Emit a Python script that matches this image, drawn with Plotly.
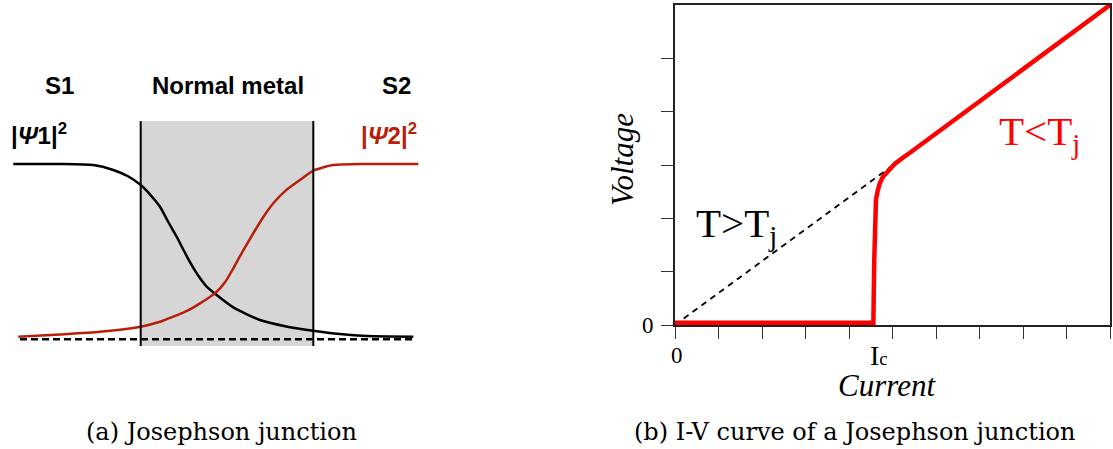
import plotly.graph_objects as go

W, H = 1113, 449

# ---- (a) order-parameter profiles across an S / N / S junction ----
# position along the junction (left panel units) and normalised |psi|^2
psi1_position = [13.3, 60, 93.3, 113.3, 128, 140.7, 151, 160, 168, 176.7, 183, 190, 198, 206.7, 216,
                 233.3, 260, 285, 313.3, 340, 366.7, 413.3]
psi1_density = [1.0, 1.0, 0.994, 0.966, 0.93, 0.880, 0.82, 0.756, 0.672, 0.585, 0.515, 0.440, 0.365,
                0.300, 0.255, 0.182, 0.110, 0.075, 0.049, 0.030, 0.019, 0.015]
psi2_position = [18.3, 60, 100, 140.7, 160, 173.3, 188, 200, 216, 225, 233.3, 243, 253.3, 263,
                 273.3, 287, 300, 313.3, 333.3, 366.7, 418.3]
psi2_density = [0.015, 0.028, 0.043, 0.072, 0.100, 0.129, 0.165, 0.205, 0.268, 0.325, 0.405, 0.505,
                0.605, 0.695, 0.776, 0.855, 0.909, 0.962, 0.994, 1.0, 1.0]
metal_edges = [140.7, 313.3]
metal_density_span = [-0.038, 1.245]
baseline_span = [20, 416]
region_labels = ["S1", "Normal metal", "S2"]
region_centres = [59.5, 228, 396]

# ---- (b) I-V characteristic ----
current = [0, 4.56, 4.58, 4.60, 4.62, 4.66, 4.71, 4.78, 4.86, 4.94, 5.05, 5.21, 5.40, 10]
voltage = [0.04, 0.04, 1.2, 2.16, 2.35, 2.52, 2.66, 2.78, 2.86, 2.93, 3.02, 3.12, 3.23, 6.0]
ohmic_current = [0.2, 4.95]
ohmic_voltage = [0.12, 2.96]
critical_current = 4.56
x_ticks = list(range(0, 11))
y_ticks = list(range(0, 6))
origin_label = "0"

# left panel frame: pixel -> data mapping
LEFT_W = 430
BASE_PX, TOP_PX = 339.3, 164.0          # density 0 and density 1 rows
PX_PER_UNIT = BASE_PX - TOP_PX
left_y_range = [(BASE_PX - H) / PX_PER_UNIT, BASE_PX / PX_PER_UNIT]

# right panel plot box in pixels
RX0, RX1, RY0, RY1 = 675, 1110, 5, 325


def px(x):
    return x / W


def py(y):
    return 1 - y / H


def dens(ypix):
    return (BASE_PX - ypix) / PX_PER_UNIT


DARK_RED = "#b81e0a"
SERIF = "Liberation Serif"
SANS = "Liberation Sans"

fig = go.Figure()

# (a) curves
fig.add_trace(go.Scatter(x=psi1_position, y=psi1_density, mode="lines",
                         line=dict(color="black", width=2.5, shape="spline", smoothing=0.6),
                         xaxis="x", yaxis="y", showlegend=False, hoverinfo="skip"))
fig.add_trace(go.Scatter(x=psi2_position, y=psi2_density, mode="lines",
                         line=dict(color=DARK_RED, width=2.5, shape="spline", smoothing=0.6),
                         xaxis="x", yaxis="y", showlegend=False, hoverinfo="skip"))

# (b) curves
fig.add_trace(go.Scatter(x=ohmic_current, y=ohmic_voltage, mode="lines",
                         line=dict(color="black", width=1.8, dash="6px,5px"),
                         xaxis="x2", yaxis="y2", showlegend=False, hoverinfo="skip"))
fig.add_trace(go.Scatter(x=current, y=voltage, mode="lines",
                         line=dict(color="#ff0000", width=4.5),
                         xaxis="x2", yaxis="y2", showlegend=False, hoverinfo="skip"))

shapes = [
    # normal-metal region
    dict(type="rect", xref="x", yref="y", x0=metal_edges[0], x1=metal_edges[1],
         y0=metal_density_span[0], y1=metal_density_span[1],
         fillcolor="#d6d6d6", line=dict(width=0), layer="below"),
    dict(type="line", xref="x", yref="y", x0=metal_edges[0], x1=metal_edges[0],
         y0=metal_density_span[0], y1=metal_density_span[1], line=dict(color="black", width=2)),
    dict(type="line", xref="x", yref="y", x0=metal_edges[1], x1=metal_edges[1],
         y0=metal_density_span[0], y1=metal_density_span[1], line=dict(color="black", width=2)),
    # zero-density reference
    dict(type="line", xref="x", yref="y", x0=baseline_span[0], x1=baseline_span[1],
         y0=0, y1=0, line=dict(color="black", width=2.4, dash="7px,4px")),
]

annotations = []
for lab, xc in zip(region_labels, region_centres):
    annotations.append(dict(x=xc, y=dens(85), xref="x", yref="y", text=f"<b>{lab}</b>",
                            showarrow=False, font=dict(family=SANS, size=24, color="black"),
                            xanchor="center", yanchor="middle"))
annotations.append(dict(x=9, y=dens(134), xref="x", yref="y",
                        text="<b>|<i>Ψ</i>1|<sup>2</sup></b>", showarrow=False,
                        font=dict(family=SANS, size=24, color="black"),
                        xanchor="left", yanchor="middle"))
annotations.append(dict(x=419, y=dens(134), xref="x", yref="y",
                        text="<b>|<i>Ψ</i>2|<sup>2</sup></b>", showarrow=False,
                        font=dict(family=SANS, size=24, color=DARK_RED),
                        xanchor="right", yanchor="middle"))

# (b) labels
tick_font = dict(family=SERIF, size=23, color="black")
annotations += [
    # origin labels on both axes
    dict(x=x_ticks[0], y=py(355), xref="x2", yref="paper", text=origin_label,
         showarrow=False, font=tick_font, xanchor="center", yanchor="middle", xshift=2),
    dict(x=px(656), y=y_ticks[0], xref="paper", yref="y2", text=origin_label,
         showarrow=False, font=tick_font, xanchor="right", yanchor="middle"),
    dict(x=px(622), y=py(160), xref="paper", yref="paper", text="<i>Voltage</i>",
         textangle=-90, showarrow=False, font=dict(family=SERIF, size=31, color="black"),
         xanchor="center", yanchor="middle"),
    dict(x=px(887), y=py(385), xref="paper", yref="paper", text="<i>Current</i>",
         height=28, showarrow=False, font=dict(family=SERIF, size=31, color="black"),
         xanchor="center", yanchor="middle"),
    dict(x=critical_current, y=py(355), xref="x2", yref="paper",
         text="I<span style='font-size:19px'>c</span>", height=24,
         xshift=6, showarrow=False, font=dict(family=SERIF, size=28, color="black"),
         xanchor="center", yanchor="middle"),
    dict(x=px(694), y=py(226), xref="paper", yref="paper", text="T>T<sub>j</sub>",
         showarrow=False, font=dict(family=SERIF, size=41, color="black"),
         xanchor="left", yanchor="middle"),
    dict(x=px(997), y=py(134), xref="paper", yref="paper", text="T<T<sub>j</sub>",
         showarrow=False, font=dict(family=SERIF, size=41, color="#ff0000"),
         xanchor="left", yanchor="middle"),
]

# captions
caption_font = dict(family="DejaVu Serif", size=24, color="black")
annotations += [
    dict(x=px(221.5), y=py(432), xref="paper", yref="paper", text="(a) Josephson junction",
         showarrow=False, font=caption_font, xanchor="center", yanchor="middle"),
    dict(x=px(854.5), y=py(432), xref="paper", yref="paper",
         text="(b) I-V curve of a Josephson junction",
         showarrow=False, font=caption_font, xanchor="center", yanchor="middle"),
]

axis_common = dict(showgrid=False, zeroline=False, showline=True, mirror=True,
                   linecolor="#222222", linewidth=1.5, ticks="outside", ticklen=12,
                   tickwidth=1.3, tickcolor="#333333", showticklabels=False,
                   fixedrange=True)

fig.update_layout(
    width=W, height=H, autosize=False,
    margin=dict(l=0, r=0, t=0, b=0),
    paper_bgcolor="white", plot_bgcolor="white",
    xaxis=dict(domain=[0, px(LEFT_W)], range=[0, LEFT_W], visible=False, fixedrange=True),
    yaxis=dict(domain=[0, 1], range=left_y_range, visible=False, fixedrange=True),
    xaxis2=dict(domain=[px(RX0), px(RX1)], range=[0, 10], anchor="y2",
                tickmode="array", tickvals=x_ticks, **axis_common),
    yaxis2=dict(domain=[py(RY1), py(RY0)], range=[0, 6], anchor="x2",
                tickmode="array", tickvals=y_ticks, **axis_common),
    shapes=shapes,
    annotations=annotations,
)

fig.write_html("out.html", config={"displayModeBar": False})
